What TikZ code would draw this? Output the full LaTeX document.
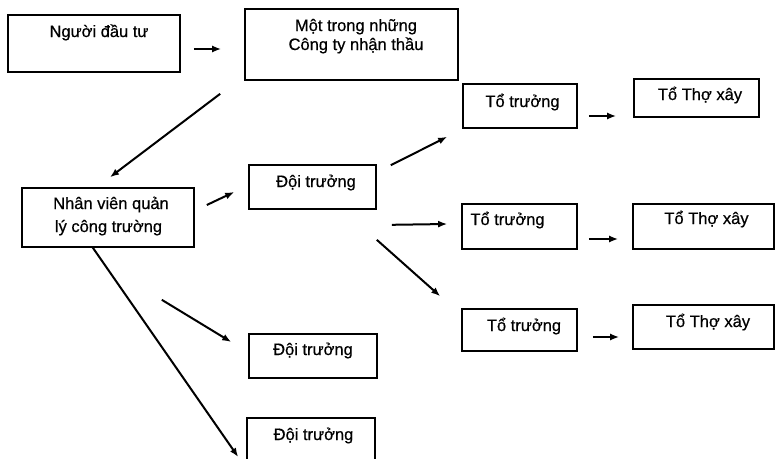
\documentclass[tikz,border=0pt]{standalone}
\usepackage{fontspec}
\setmainfont{Liberation Sans}[FakeBold=0.6]
\usetikzlibrary{arrows.meta}
\begin{document}
\begin{tikzpicture}[x=1pt,y=-1pt,
  box/.style={draw=black,line width=1.6pt,inner sep=0pt,minimum width=#1},
  lbl/.style={inner sep=0pt,anchor=base,font=\fontsize{16.5}{19}\selectfont},
  arr/.style={line width=2pt,-{Latex[length=9pt,width=7pt]}}]
\useasboundingbox[fill=white] (0,0) rectangle (776,458);
% boxes
\node[box=172pt,minimum height=57pt] (b1) at (94,43.5) {};
\node[box=213pt,minimum height=71pt] (b2) at (351.5,44.5) {};
\node[box=172pt,minimum height=59pt] (b3) at (108,217.5) {};
\node[box=127pt,minimum height=44pt] (d1) at (312.5,187) {};
\node[box=114pt,minimum height=44pt] (t1) at (520,106) {};
\node[box=125pt,minimum height=38pt] (x1) at (696.5,98) {};
\node[box=115pt,minimum height=45pt] (t2) at (519.5,226.5) {};
\node[box=141pt,minimum height=45pt] (x2) at (703.5,226.5) {};
\node[box=115pt,minimum height=42pt] (t3) at (519.5,330) {};
\node[box=141pt,minimum height=44pt] (x3) at (703.5,327) {};
\node[box=128pt,minimum height=44pt] (d2) at (313,356) {};
\node[box=128pt,minimum height=52pt] (d3) at (311,444) {};
% texts
\node[lbl] (b1t) at (99,37) {Người đầu tư};
\node[lbl] (b2ta) at (356,31) {Một trong những};
\node[lbl] (b2tb) at (356,50) {Công ty nhận thầu};
\node[lbl] (b3ta) at (111,209) {Nhân viên quản};
\node[lbl] (b3tb) at (108.5,232) {lý công trường};
\node[lbl] (d1t) at (316,187) {Đội trưởng};
\node[lbl] (t1t) at (522.5,107) {Tổ trưởng};
\node[lbl] (x1t) at (700,100) {Tổ Thợ xây};
\node[lbl] (t2t) at (507.5,225) {Tổ trưởng};
\node[lbl] (x2t) at (706.5,224) {Tổ Thợ xây};
\node[lbl] (t3t) at (524,331) {Tổ trưởng};
\node[lbl] (x3t) at (708,327) {Tổ Thợ xây};
\node[lbl] (d2t) at (313,355) {Đội trưởng};
\node[lbl] (d3t) at (313.5,440) {Đội trưởng};
% arrows
\draw[arr] ([shift={(13,5.5)}]b1.east) -- ([shift={(-23,4.5)}]b2.west);
\draw[arr] ([shift={(-24,13)}]b2.south west) -- ([shift={(2,-10)}]b3.north);
\draw[arr] ([shift={(12,-12.5)}]b3.east) -- ([shift={(-14,5)}]d1.west);
\draw[arr] ([shift={(14,1)}]d1.north east) -- ([shift={(-15,8)}]t1.south west);
\draw[arr] ([shift={(11,10)}]t1.east) -- ([shift={(-17,18)}]x1.west);
\draw[arr] ([shift={(15,15)}]d1.south east) -- ([shift={(-14,-2.5)}]t2.west);
\draw[arr] ([shift={(0,30)}]d1.south east) -- ([shift={(-21,-12)}]t3.north west);
\draw[arr] ([shift={(11,12.5)}]t2.east) -- ([shift={(-14,12.5)}]x2.west);
\draw[arr] ([shift={(15,7)}]t3.east) -- ([shift={(-13,10)}]x3.west);
\draw[arr] ([shift={(-33,52)}]b3.south east) -- ([shift={(-17,-14)}]d2.west);
\draw[arr] ([shift={(71,-1)}]b3.south west) -- ([shift={(-8,13)}]d3.west);
\end{tikzpicture}
\end{document}
